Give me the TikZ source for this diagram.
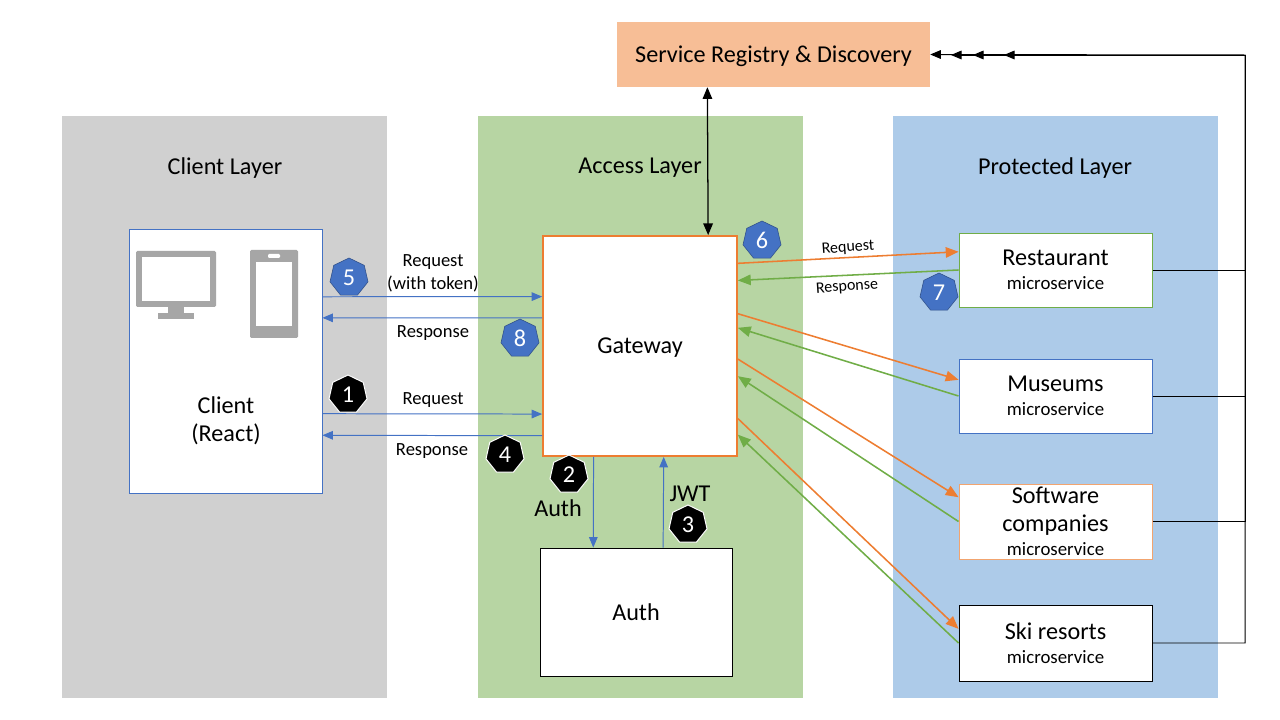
\documentclass[tikz,border=0pt]{standalone}
\usepackage{fontspec}
\setmainfont{Carlito}
\usetikzlibrary{arrows, calc, shapes.geometric}

\newcommand{\px}{0.025cm}
\newcommand{\microtext}{\\[-2.8pt]\fontsize{13.4}{15}\selectfont microservice}
\definecolor{layergray}{HTML}{D0D0D0}
\definecolor{layergreen}{HTML}{B7D5A3}
\definecolor{layerblue}{HTML}{ADCBE9}
\definecolor{registryfill}{HTML}{F7BE96}
\definecolor{edgeblue}{HTML}{4472C4}
\definecolor{edgeorange}{HTML}{ED7D31}
\definecolor{edgegreen}{HTML}{70AD47}
\definecolor{icongray}{HTML}{A6A6A6}

\tikzset{
  bigfont/.style={font=\fontsize{17.2}{20}\selectfont},
  smallfont/.style={font=\fontsize{13.2}{16}\selectfont},
  layer/.style={minimum width=325*\px, minimum height=582*\px, inner sep=0pt},
  layertitle/.style={bigfont, inner sep=0pt},
  service/.style={draw=#1, fill=white, line width=0.7pt, minimum width=193*\px, minimum height=75*\px,
    inner sep=0pt, align=center, bigfont},
  edgelabel/.style={smallfont, inner sep=0pt},
  callblue/.style={->, draw=edgeblue, line width=0.7pt},
  callorange/.style={->, draw=edgeorange, line width=1.1pt},
  callgreen/.style={->, draw=edgegreen, line width=1.1pt},
  registered/.style={->, draw=black, line width=0.7pt},
  badge/.style={regular polygon, regular polygon sides=7, minimum size=39*\px, inner sep=0pt,
    text=white, bigfont},
  blackbadge/.style={badge, fill=black, draw=white, line width=0.7pt},
  bluebadge/.style={badge, fill=edgeblue, draw=edgeblue!70!black, line width=0.4pt},
}

\begin{document}
\begin{tikzpicture}[line cap=butt,line join=miter,>=triangle 45,x=0.025cm,y=-0.025cm]
\useasboundingbox (0,0) rectangle (1280,720);

% layers
\node[layer, fill=layergray] (clientlayer) at (224.5,407) {};
\node[layer, fill=layergreen] (accesslayer) at (640.5,407) {};
\node[layer, fill=layerblue] (protectedlayer) at (1055.5,407) {};
\node[layertitle] (clienttitle) at (225,168) {Client Layer};
\node[layertitle] (accesstitle) at (640,168) {Access Layer};
\node[layertitle] (protectedtitle) at (1055,168) {Protected Layer};

% boxes
\node[fill=registryfill, minimum width=313*\px, minimum height=65*\px, inner sep=0pt, bigfont, text depth=0pt] (registry) at (773.5,54.5) {Service Registry \& Discovery};
\node[service=edgeblue, minimum height=264*\px] (client) at (225.5,361) {};
\node[bigfont, inner sep=0pt, align=center] (clienttext) at (226,421) {Client\\(React)};
\node[service=edgeorange, line width=1.3pt, minimum width=194*\px, minimum height=220*\px, text depth=0pt] (gateway) at (640,346) {Gateway};
\node[service=black, minimum width=192*\px, minimum height=128*\px] (auth) at (636,612) {Auth};
\node[service=edgegreen, minimum height=74*\px] (restaurant) at (1055.5,270) {Restaurant\microtext};
\node[service=edgeblue, minimum height=74*\px] (museums) at (1055.5,396) {Museums\microtext};
\node[service=edgeorange!70!white] (software) at (1055.5,521.5) {Software\\companies\microtext};
\node[service=black, minimum height=76*\px] (skiresorts) at (1055.5,643) {Ski resorts\microtext};

% monitor
\fill[icongray, rounded corners=1pt] (136,251) rectangle (216,307);
\fill[white] (142,257) rectangle (210,301);
\fill[icongray] (168,307) rectangle (184,313);
\fill[icongray] (158,313) rectangle (194,319);
% phone
\fill[icongray, rounded corners=1pt] (250,250) rectangle (298,338);
\fill[white] (256,262) rectangle (292,326);
\fill[white, rounded corners=0.8pt] (268,254) rectangle (280,258);

% client <-> gateway
\draw[callblue] ($(client.north east)!0.2576!(client.south east)$) -- ($(gateway.north west)!0.2773!(gateway.south west)$);
\draw[callblue] ($(gateway.north west)!0.3727!(gateway.south west)$) -- ($(client.north east)!0.3371!(client.south east)$);
\draw[callblue] ($(client.north east)!0.6989!(client.south east)$) -- ($(gateway.north west)!0.8068!(gateway.south west)$);
\draw[callblue] ($(gateway.north west)!0.9045!(gateway.south west)$) -- ($(client.north east)!0.7803!(client.south east)$);

% gateway <-> auth
\draw[callblue] ($(gateway.south west)!0.2629!(gateway.south east)$) -- ($(auth.north west)!0.2786!(auth.north east)$);
\draw[callblue] ($(auth.north west)!0.6406!(auth.north east)$) -- ($(gateway.south west)!0.6211!(gateway.south east)$);

% gateway <-> registry
\draw[<->, line width=0.9pt] ($(registry.south west)!0.2891!(registry.south east)$) -- ($(gateway.north west)!0.848!(gateway.north east)$);

% gateway -> services
\draw[callorange] ($(gateway.north east)!0.1273!(gateway.south east)$) -- ($(restaurant.north west)!0.2568!(restaurant.south west)$);
\draw[callorange] ($(gateway.north east)!0.3545!(gateway.south east)$) -- ($(museums.north west)!0.2838!(museums.south west)$);
\draw[callorange] ($(gateway.north east)!0.5591!(gateway.south east)$) -- ($(software.north west)!0.1800!(software.south west)$);
\draw[callorange] ($(gateway.north east)!0.8273!(gateway.south east)$) -- ($(skiresorts.north west)!0.3158!(skiresorts.south west)$);

% services -> gateway
\draw[callgreen] ($(restaurant.north west)!0.5!(restaurant.south west)$) -- ($(gateway.north east)!0.2045!(gateway.south east)$);
\draw[callgreen] ($(museums.north west)!0.5!(museums.south west)$) -- ($(gateway.north east)!0.4182!(gateway.south east)$);
\draw[callgreen] ($(software.north west)!0.5!(software.south west)$) -- ($(gateway.north east)!0.6364!(gateway.south east)$);
\draw[callgreen] ($(skiresorts.north west)!0.5!(skiresorts.south west)$) -- ($(gateway.north east)!0.9!(gateway.south east)$);

% services -> registry
\coordinate (tiprestaurant) at (1004,55);
\coordinate (tipmuseums) at (973,55);
\coordinate (tipsoftware) at (951,55);
\coordinate (bendtop) at (1245,55);
\draw[registered] (restaurant.east) -- (restaurant.east -| bendtop) -- (bendtop) -- (tiprestaurant);
\draw[registered] (museums.east) -- (museums.east -| bendtop) -- (bendtop) -- (tipmuseums);
\draw[registered] (software.east) -- (software.east -| bendtop) -- (bendtop) -- (tipsoftware);
\draw[registered] (skiresorts.east) -- (skiresorts.east -| bendtop) -- (bendtop) -- (registry.east);

% edge labels
\node[edgelabel, align=center] (req2) at (433,273.5) {Request\\(with token)};
\node[edgelabel] (resp2) at (433,333) {Response};
\node[edgelabel] (req1) at (433,400) {Request};
\node[edgelabel] (resp1) at (432,451) {Response};
\node[edgelabel, font=\fontsize{11.4}{13}\selectfont, rotate=4] (req3) at (848,248) {Request};
\node[edgelabel, font=\fontsize{11.4}{13}\selectfont, rotate=4] (resp3) at (847,287) {Response};
\node[bigfont, inner sep=0pt] (authlabel) at (558,508) {Auth};
\node[bigfont, inner sep=0pt] (jwtlabel) at (690,494) {JWT};

% badges
\node[blackbadge] (step1) at (348,394.5) {1};
\node[blackbadge] (step2) at (569,474.5) {2};
\node[blackbadge] (step3) at (688,524.5) {3};
\node[blackbadge] (step4) at (505,454.5) {4};
\node[bluebadge] (step5) at (349,277.5) {5};
\node[bluebadge] (step6) at (762,240.5) {6};
\node[bluebadge] (step7) at (939,292.5) {7};
\node[bluebadge] (step8) at (520,338.5) {8};
\end{tikzpicture}
\end{document}
